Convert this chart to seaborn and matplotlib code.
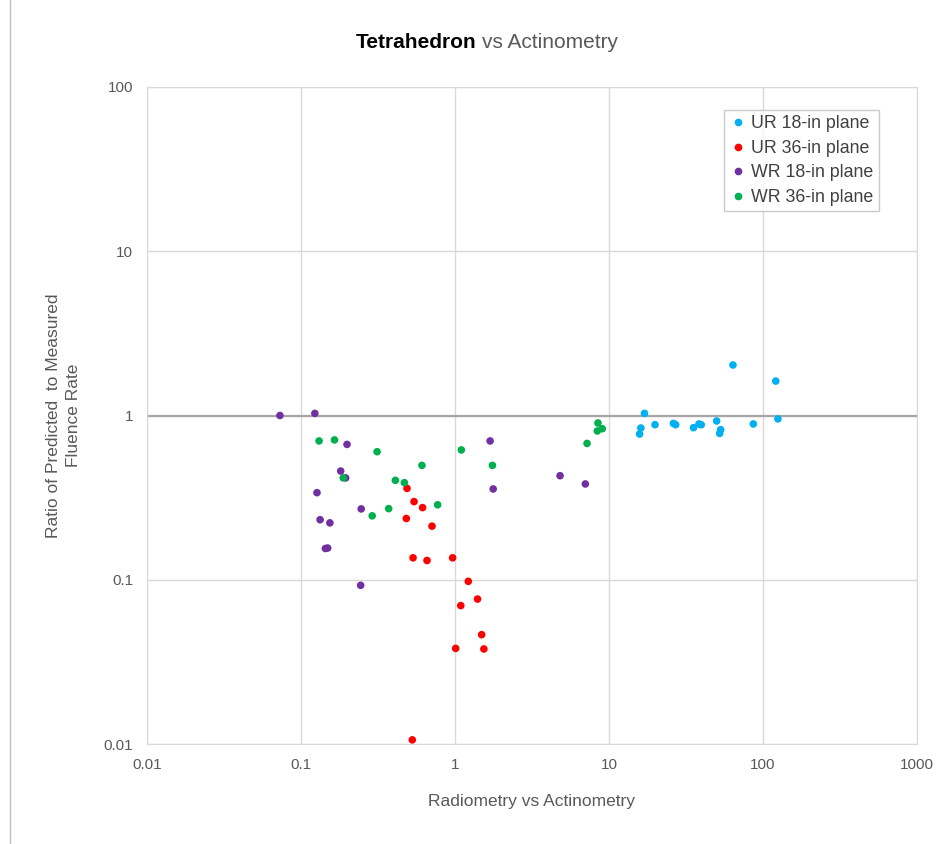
import pandas as pd
import seaborn as sns
import matplotlib.pyplot as plt
from matplotlib.lines import Line2D

# (log-log)
ur18_x = [17.0, 16.1, 15.8, 19.9, 26.2, 27.1, 35.4, 38.4, 39.7, 50.0, 53.1, 52.3, 86.5, 63.8, 121, 125]
ur18_y = [1.03, 0.839, 0.771, 0.879, 0.895, 0.879, 0.843, 0.888, 0.879, 0.926, 0.820, 0.778, 0.888, 2.03, 1.62, 0.953]

ur36_x = [0.488, 0.542, 0.616, 0.483, 0.709, 0.534, 0.658, 0.965, 1.22, 1.40, 1.09, 1.49, 1.01, 1.54, 0.528]
ur36_y = [0.360, 0.299, 0.275, 0.236, 0.212, 0.136, 0.131, 0.136, 0.0978, 0.0763, 0.0696, 0.0463, 0.0382, 0.0379, 0.0106]

wr18_x = [0.073, 0.123, 0.199, 0.181, 0.195, 0.127, 0.246, 0.133, 0.154, 0.144, 0.149, 0.244, 1.69, 1.77, 4.81, 7.02]
wr18_y = [1.0, 1.03, 0.667, 0.459, 0.417, 0.339, 0.270, 0.232, 0.222, 0.155, 0.156, 0.0925, 0.70, 0.357, 0.430, 0.383]

wr36_x = [0.131, 0.165, 0.188, 0.312, 0.610, 0.410, 0.469, 0.771, 0.371, 0.290, 1.10, 1.75, 8.48, 9.04, 8.40, 7.20]
wr36_y = [0.70, 0.71, 0.417, 0.602, 0.497, 0.403, 0.390, 0.286, 0.271, 0.245, 0.617, 0.497, 0.90, 0.831, 0.805, 0.676]

series = ['UR 18-in plane', 'UR 36-in plane', 'WR 18-in plane', 'WR 36-in plane']
colors = ['#00B0F0', '#FF0000', '#7030A0', '#00B050']

frames = []
for name, xs, ys in zip(series, [ur18_x, ur36_x, wr18_x, wr36_x], [ur18_y, ur36_y, wr18_y, wr36_y]):
    frames.append(pd.DataFrame({'x': xs, 'y': ys, 'series': name}))
df = pd.concat(frames, ignore_index=True)

sns.set_style('white')
plt.rcParams['font.family'] = ['Liberation Sans', 'DejaVu Sans']

fig = plt.figure(figsize=(9.48, 8.44), dpi=100)
ax = fig.add_axes([147/948, 1-744/844, 770/948, 657/844])

sns.scatterplot(data=df, x='x', y='y', hue='series', hue_order=series,
                palette=colors, s=30, edgecolor='none', ax=ax, zorder=3, legend=False)

ax.set_xscale('log')
ax.set_yscale('log')
ax.set_xlim(0.01, 1000)
ax.set_ylim(0.01, 100)
ax.set_xticks([0.01, 0.1, 1, 10, 100, 1000])
ax.set_xticklabels(['0.01', '0.1', '1', '10', '100', '1000'])
ax.set_yticks([0.01, 0.1, 1, 10, 100])
ax.set_yticklabels(['0.01', '0.1', '1', '10', '100'])
ax.minorticks_off()
ax.tick_params(length=0, labelsize=11, labelcolor='#595959', pad=10)
ax.grid(True, which='major', color='#d9d9d9', lw=1)
for sp in ax.spines.values():
    sp.set_color('#d9d9d9')
ax.axhline(1, color='#a6a6a6', lw=1.6, zorder=2)

ax.set_xlabel('Radiometry vs Actinometry', fontsize=12.5, color='#595959', labelpad=16)
ax.set_ylabel('Ratio of Predicted  to Measured\nFluence Rate', fontsize=12.5, color='#595959',
              labelpad=16, linespacing=1.45)

handles = [Line2D([], [], marker='o', ls='', color=c, markersize=4.5) for c in colors]
leg = ax.legend(handles, series, loc='upper left', bbox_to_anchor=(0.749, 0.965),
                frameon=True, fancybox=False, fontsize=12.8, handletextpad=0.25,
                borderpad=0.3, labelspacing=0.42, handlelength=1.0, borderaxespad=0)
leg.get_frame().set_edgecolor('#bfbfbf')
for t in leg.get_texts():
    t.set_color('#404040')

fig.text(476/948, 1-43/844, 'Tetrahedron', ha='right', va='center', fontsize=15, weight='bold', color='black')
fig.text(482/948, 1-43/844, 'vs Actinometry', ha='left', va='center', fontsize=15, color='#595959')

fig.add_artist(Line2D([10/948, 10/948], [0, 1], transform=fig.transFigure, color='#bfbfbf', lw=1))

fig.savefig('out.png', dpi=100)
